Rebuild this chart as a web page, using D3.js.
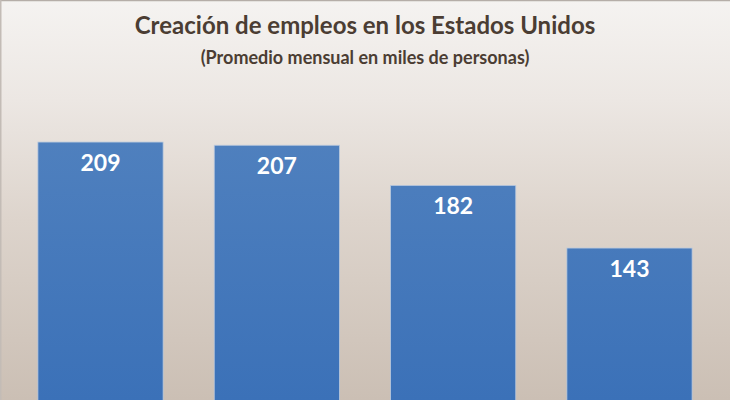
<!DOCTYPE html>
<html>
<head>
<meta charset="utf-8">
<script src="https://cdn.jsdelivr.net/npm/d3@7"></script>
<style>
  html, body { margin: 0; padding: 0; background: #fff; }
  svg { display: block; }
</style>
</head>
<body>
<div id="chart"></div>
<script>
// chart data
const periods = ["p1", "p2", "p3", "p4"];
const jobs = [209, 207, 182, 143];
const title = "Creación de empleos en los Estados Unidos";
const subtitle = "(Promedio mensual en miles de personas)";

// svg set up
let svgWidth = 730;
let svgHeight = 400;

let svg = d3.select("#chart")
    .append("svg")
    .attr("width", svgWidth)
    .attr("height", svgHeight);

let defs = svg.append("defs");

// background gradient, white at top to tan at bottom
let bg = defs.append("linearGradient")
    .attr("id", "bg").attr("x1", 0).attr("y1", 0).attr("x2", 0).attr("y2", 1);
bg.append("stop").attr("offset", "0%").attr("stop-color", "#f5f3f1");
bg.append("stop").attr("offset", "25%").attr("stop-color", "#ece7e3");
bg.append("stop").attr("offset", "55%").attr("stop-color", "#ddd4cc");
bg.append("stop").attr("offset", "100%").attr("stop-color", "#cbbfb4");

// bar gradient
let barGrad = defs.append("linearGradient")
    .attr("id", "barGrad")
    .attr("gradientUnits", "userSpaceOnUse")
    .attr("x1", 0).attr("x2", 0)
    .attr("y1", 140).attr("y2", 400);
barGrad.append("stop").attr("offset", "0%").attr("stop-color", "#4f80be");
barGrad.append("stop").attr("offset", "100%").attr("stop-color", "#3b71b8");

svg.append("rect")
    .attr("width", svgWidth)
    .attr("height", svgHeight)
    .attr("fill", "url(#bg)");

// thin frame on top and left
svg.append("line").attr("x1", 0).attr("x2", svgWidth).attr("y1", 0.5).attr("y2", 0.5)
    .attr("stroke", "#b5aea8").attr("stroke-width", 1.5);
svg.append("line").attr("x1", 0.75).attr("x2", 0.75).attr("y1", 0).attr("y2", svgHeight)
    .attr("stroke", "#c3bcb6").attr("stroke-width", 1.5);

// scales (bars run past the bottom edge, baseline is off the picture)
let xBandScale = d3.scaleBand()
    .domain(periods)
    .range([0, 730])
    .paddingInner(0.29)
    .paddingOuter(0.215);

let yLinearScale = d3.scaleLinear()
    .domain([0, 250])
    .range([477.7, 76.2]);

// bars
let barGroup = svg.selectAll(".bar")
    .data(jobs)
    .enter()
    .append("g")
    .attr("class", "bar");

barGroup.append("rect")
    .attr("x", (d, i) => xBandScale(periods[i]))
    .attr("y", d => yLinearScale(d))
    .attr("width", xBandScale.bandwidth())
    .attr("height", d => yLinearScale(0) - yLinearScale(d))
    .attr("fill", "url(#barGrad)")
    .attr("stroke", "#b9c9de")
    .attr("stroke-width", 0.8);

barGroup.append("text")
    .text(d => d)
    .attr("x", (d, i) => xBandScale(periods[i]) + xBandScale.bandwidth() / 2)
    .attr("y", d => yLinearScale(d) + 29)
    .attr("fill", "white")
    .attr("font-family", "Lato, 'Open Sans', sans-serif")
    .attr("font-weight", "bold")
    .attr("font-size", "23px")
    .attr("text-anchor", "middle");

// titles
svg.append("text")
    .attr("x", 365)
    .attr("y", 34)
    .attr("text-anchor", "middle")
    .attr("fill", "#4b3d33")
    .attr("font-family", "Lato, 'Open Sans', sans-serif")
    .attr("font-weight", "bold")
    .attr("font-size", "24px")
    .text(title);

svg.append("text")
    .attr("x", 365)
    .attr("y", 64)
    .attr("text-anchor", "middle")
    .attr("fill", "#4b3d33")
    .attr("font-family", "Lato, 'Open Sans', sans-serif")
    .attr("font-weight", "bold")
    .attr("font-size", "18px")
    .text(subtitle);
</script>
</body>
</html>
